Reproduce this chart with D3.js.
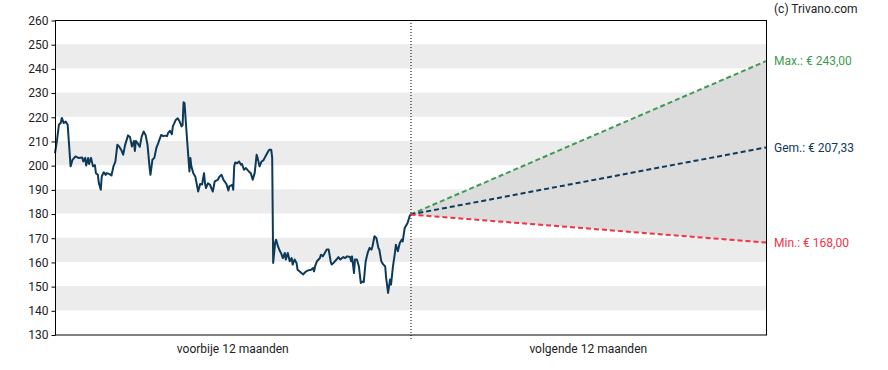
<!DOCTYPE html>
<html>
<head>
<meta charset="utf-8">
<script src="https://cdn.jsdelivr.net/npm/d3@7"></script>
<style>
  body { margin: 0; background: #fff; }
  text { font-family: Roboto, "Noto Sans", sans-serif; }
</style>
</head>
<body>
<svg id="chart" width="888" height="370"></svg>
<script>
// days since start of the past 12 months, and close price on that day
const histDays = [0,2,4,6,7,9,11,13,16,18,21,24,28,29,31,32,34,35,37,39,41,42,44,45,47,48,50,52,53,56,58,60,62,64,66,68,70,72,75,77,79,81,82,83,85,87,89,91,93,95,97,98,100,102,104,106,109,111,113,115,116,118,120,121,124,126,128,130,131,132,133,135,137,138,139,140,142,144,145,147,149,151,153,154,155,157,159,162,164,167,169,171,173,176,178,179,182,183,184,185,187,189,191,192,194,196,199,201,203,205,207,208,210,212,214,215,217,219,220,222,223,224,226,227,229,231,232,234,236,237,239,241,243,244,246,248,249,251,253,255,256,258,260,263,265,266,267,269,272,273,275,277,279,281,283,284,286,289,291,293,296,298,300,303,304,305,307,308,310,312,314,316,317,319,321,323,325,326,328,330,332,333,335,337,339,340,342,344,345,347,349,350,352,354,356,357,359,361,362,364,365];
const histPrice = [205,210,216.7,217.5,219.5,217.4,218,216.7,199.5,202.2,203.6,203,203.2,201.5,203,199.9,203,200.5,203,199.5,200,196.7,196,192.6,189.8,195.3,197.1,196,196.7,196.3,195.7,199.5,201.5,208.4,207.6,206.3,204.3,208.4,212.3,211.6,207.7,210,205.9,210,209,207.6,211.8,213.9,212.5,208.4,199.5,196,202.2,203,207,209.1,212.5,212,212.2,212,213.2,214.2,212.8,216,218.7,219.4,218,216,216.5,226,225.6,213.9,203,197.4,203,199.5,196.7,195.3,193.3,189.1,192.2,192,196.7,192.5,190.5,192.5,192,189.1,193.3,193.9,195.3,196,193.9,192.2,189.5,191.2,191.9,189.8,199.5,201.1,200.8,201.5,200.2,200.5,198.1,198.8,197.4,196.7,194,196.7,204.3,203,199.5,201.5,202,202.8,204.3,205.7,206.4,206.4,203,159.6,167.9,169.2,166.4,164.4,163.7,161.6,163.7,161,163.7,160.3,161.6,158.9,161,159.6,156.8,156.1,155.4,154.8,155.4,156.1,156.5,156.8,157.5,156.1,158.2,160.3,161.6,163,162.3,163.7,165.1,165.1,160.3,158.9,159.6,161,162,161,162,161.6,162.3,162,160.3,162.3,155.4,161,161,158.2,151.3,151.9,151.6,160.3,163.7,165.8,165.1,166.5,170.6,169.9,165.8,165.1,160.3,158.9,158.2,153.4,147.2,152.7,150.6,158.2,163.7,167.1,164.4,167.8,169.2,168.5,174,175.4,176.1,178.8,179.6];

// analyst targets for 12 months ahead
const targetNames  = ["Max.", "Gem.", "Min."];
const targetValues = [243.00, 207.33, 168.00];
const targetColors = ["#3f9a55", "#0f3a5c", "#f03348"];

const yTicks = d3.range(130, 261, 10);
const bandStarts = [140, 160, 180, 200, 220, 240];
const periodLabels = ["voorbije 12 maanden", "volgende 12 maanden"];

const svg = d3.select("#chart");
const m = { left: 55, right: 766, top: 20, bottom: 334.5 };

const x = d3.scaleLinear().domain([0, 730]).range([m.left, m.right]);
const y = d3.scaleLinear().domain([130, 260]).range([m.bottom, m.top]);

// grey bands
svg.append("g").selectAll("rect")
  .data(bandStarts)
  .join("rect")
    .attr("x", m.left)
    .attr("width", m.right - m.left)
    .attr("y", d => y(d + 10))
    .attr("height", d => y(d) - y(d + 10))
    .attr("fill", "#ececec");

// forecast cone
const lastDay = histDays[histDays.length - 1];
const lastPrice = histPrice[histPrice.length - 1];
svg.append("path")
  .attr("d", d3.line()([
    [x(lastDay), y(lastPrice)],
    [x(730), y(targetValues[0])],
    [x(730), y(targetValues[2])]
  ]) + "Z")
  .attr("fill", "#dcdcdc");

// divider between past and future
svg.append("line")
  .attr("x1", x(365) + 0.5).attr("x2", x(365) + 0.5)
  .attr("y1", m.top).attr("y2", m.bottom + 6)
  .attr("stroke", "#000")
  .attr("stroke-dasharray", "1,2");

// price line
svg.append("path")
  .datum(histDays.map((d, i) => [d, histPrice[i]]))
  .attr("d", d3.line().x(d => x(d[0])).y(d => y(d[1])))
  .attr("fill", "none")
  .attr("stroke", "#0e3a5a")
  .attr("stroke-width", 2)
  .attr("stroke-linejoin", "round");

// target lines
targetValues.forEach((v, i) => {
  svg.append("line")
    .attr("x1", x(lastDay)).attr("y1", y(lastPrice))
    .attr("x2", x(730)).attr("y2", y(v))
    .attr("stroke", targetColors[i])
    .attr("stroke-width", 2)
    .attr("stroke-dasharray", "5,3");

  svg.append("text")
    .attr("x", m.right + 8)
    .attr("y", y(v))
    .attr("dy", "0.35em")
    .attr("font-size", 12)
    .attr("fill", targetColors[i])
    .text(`${targetNames[i]}: € ${d3.format(".2f")(v).replace(".", ",")}`);
});

// frame
svg.append("rect")
  .attr("x", m.left + 0.5).attr("y", m.top + 0.5)
  .attr("width", m.right - m.left).attr("height", m.bottom - m.top)
  .attr("fill", "none")
  .attr("stroke", "#000");

// y axis
const yAxis = svg.append("g")
  .attr("transform", `translate(${m.left + 0.5},0.5)`)
  .call(d3.axisLeft(y).tickValues(yTicks).tickSize(4).tickSizeOuter(0));
yAxis.select(".domain").remove();
yAxis.selectAll("text")
  .attr("font-size", 12)
  .attr("fill", "#222")
  .attr("font-family", "Roboto, sans-serif");

// period labels
svg.append("g").selectAll("text")
  .data(periodLabels)
  .join("text")
    .attr("x", (d, i) => x(182.5 + i * 365))
    .attr("y", 353)
    .attr("text-anchor", "middle")
    .attr("font-size", 12)
    .attr("fill", "#222")
    .text(d => d);

svg.append("text")
  .attr("x", 774)
  .attr("y", 13)
  .attr("font-size", 12)
  .attr("fill", "#222")
  .text("(c) Trivano.com");
</script>
</body>
</html>
